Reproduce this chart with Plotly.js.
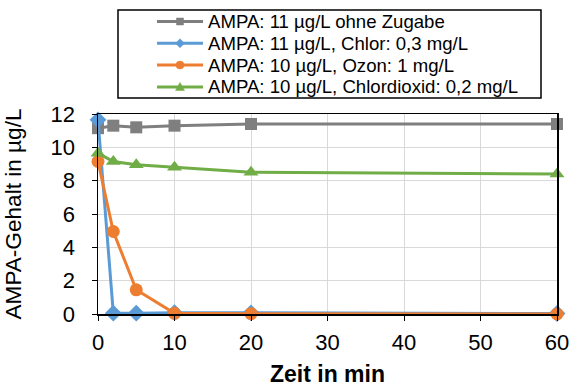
<!DOCTYPE html>
<html>
<head>
<meta charset="utf-8">
<script src="https://cdn.plot.ly/plotly-3.0.1.min.js"></script>
<style>html,body{margin:0;padding:0;background:#fff;}#chart{width:573px;height:387px;}</style>
</head>
<body>
<div id="chart"></div>
<script>
var timeMin = [0, 2, 5, 10, 20, 60];
var seriesNames = [
  "AMPA: 11 µg/L ohne Zugabe",
  "AMPA: 11 µg/L, Chlor: 0,3 mg/L",
  "AMPA: 10 µg/L, Ozon: 1 mg/L",
  "AMPA: 10 µg/L, Chlordioxid: 0,2 mg/L"
];
var ohneZugabe = [11.15, 11.3, 11.2, 11.3, 11.4, 11.4];
var chlor = [11.65, 0.05, 0.05, 0.08, 0.07, 0.03];
var ozon = [9.15, 4.95, 1.45, 0.04, 0.02, 0.0];
var chlordioxid = [9.65, 9.15, 8.95, 8.8, 8.5, 8.4];
var xTicks = [0, 10, 20, 30, 40, 50, 60];
var yTicks = [0, 2, 4, 6, 8, 10, 12];

var colors = ["#7f7f7f", "#5b9bd5", "#ed7d31", "#70ad47"];
var symbols = ["square", "diamond", "circle", "triangle-up"];
var sizes = [12, 13, 13, 13];
var ys = [ohneZugabe, chlor, ozon, chlordioxid];

var traces = ys.map(function (y, i) {
  return {
    x: timeMin, y: y, name: seriesNames[i], type: "scatter", mode: "lines+markers",
    line: {color: colors[i], width: 3},
    marker: {color: colors[i], symbol: symbols[i], size: sizes[i]},
    cliponaxis: false, showlegend: false
  };
});

// plot area geometry (pixels)
var M = {l: 98, r: 16, t: 114, b: 73};
var W = 573, H = 387;
var pw = W - M.l - M.r, ph = H - M.t - M.b;
function px(x) { return (x - M.l) / pw; }
function py(y) { return (H - M.b - y) / ph; }

// manual legend (Excel style)
var shapes = [{
  type: "rect", xref: "paper", yref: "paper",
  x0: px(118), x1: px(541), y0: py(10), y1: py(98),
  line: {color: "#000", width: 1.5}, fillcolor: "#fff", layer: "above"
}];
var annotations = [];
var rowY = [21.5, 43.3, 65.1, 86.9];
var markerPaths = [
  "M-3.5,-3.5 L3.5,-3.5 L3.5,3.5 L-3.5,3.5 Z",
  "M0,-4.5 L4.5,0 L0,4.5 L-4.5,0 Z",
  null,
  "M-4.5,-3.5 L4.5,-3.5 L0,4.5 Z"
];
rowY.forEach(function (ry, i) {
  shapes.push({
    type: "line", xref: "paper", yref: "paper",
    x0: px(157), x1: px(203), y0: py(ry), y1: py(ry),
    line: {color: colors[i], width: 3}, layer: "above"
  });
  if (markerPaths[i]) {
    shapes.push({
      type: "path", xref: "paper", yref: "paper",
      xsizemode: "pixel", ysizemode: "pixel", xanchor: px(180), yanchor: py(ry),
      path: markerPaths[i], fillcolor: colors[i], line: {color: colors[i], width: 0.5}, layer: "above"
    });
  } else {
    shapes.push({
      type: "circle", xref: "paper", yref: "paper",
      xsizemode: "pixel", ysizemode: "pixel", xanchor: px(180), yanchor: py(ry),
      x0: -4, x1: 4, y0: -4, y1: 4,
      fillcolor: colors[i], line: {color: colors[i], width: 0.5}, layer: "above"
    });
  }
  annotations.push({
    xref: "paper", yref: "paper", x: px(206), y: py(ry),
    xanchor: "left", yanchor: "middle", showarrow: false,
    text: seriesNames[i], font: {size: 18.6, color: "#000"}
  });
});

var layout = {
  width: W, height: H,
  margin: M,
  paper_bgcolor: "#fff", plot_bgcolor: "#fff",
  font: {family: "Liberation Sans, Arial, sans-serif", color: "#000", size: 22},
  showlegend: false,
  shapes: shapes,
  annotations: annotations,
  xaxis: {
    range: [0, 60], tickvals: xTicks, ticktext: xTicks.map(String),
    showgrid: true, gridcolor: "#d9d9d9", gridwidth: 1,
    showline: true, linecolor: "#000", linewidth: 1.5, mirror: true,
    ticks: "outside", ticklen: 5, tickcolor: "#000", zeroline: false,
    tickfont: {size: 22}, ticklabelstandoff: 3,
    title: {text: "<b>Zeit in min</b>", font: {size: 23}, standoff: 12}
  },
  yaxis: {
    range: [0, 12], tickvals: yTicks, ticktext: yTicks.map(String),
    showgrid: true, gridcolor: "#d9d9d9", gridwidth: 1,
    showline: true, linecolor: "#000", linewidth: 1.5, mirror: true,
    ticks: "outside", ticklen: 5, tickcolor: "#000", zeroline: false,
    tickfont: {size: 22}, ticklabelstandoff: 12,
    title: {text: "AMPA-Gehalt in µg/L", font: {size: 22.6}, standoff: 22}
  }
};

Plotly.newPlot("chart", traces, layout, {displayModeBar: false, staticPlot: true});
</script>
</body>
</html>
